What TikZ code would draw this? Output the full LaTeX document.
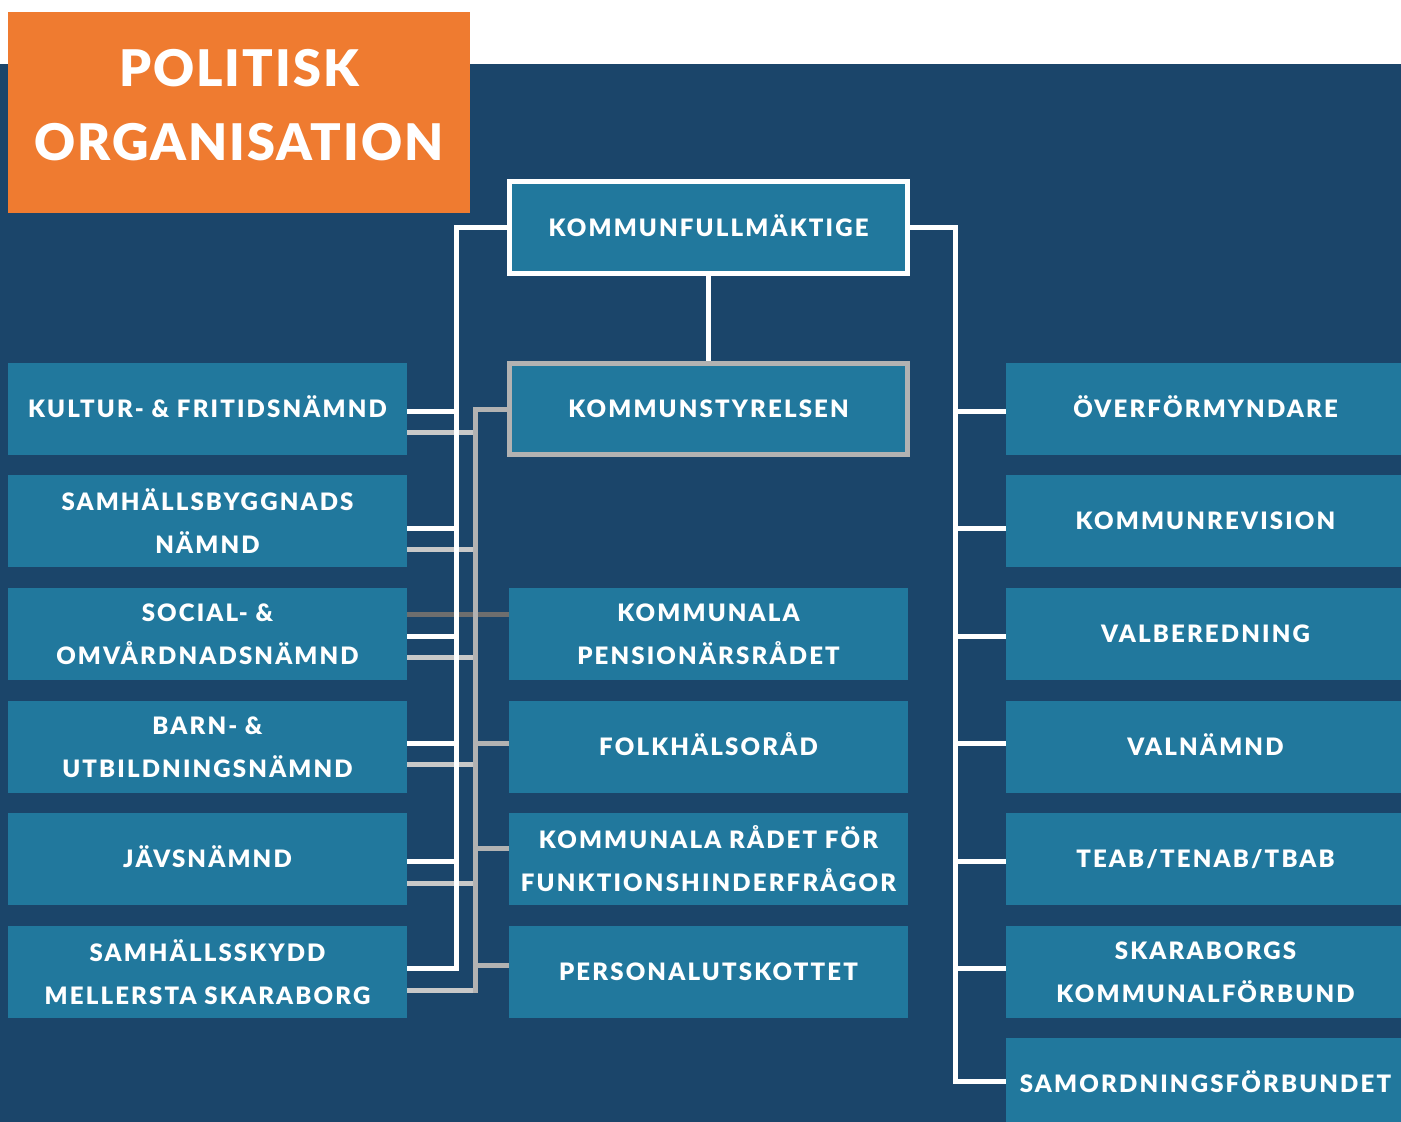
\documentclass[tikz,border=0pt]{standalone}
\usepackage{fontspec}
\newfontfamily\boxfont{Lato}[BoldFont={Lato Black},LetterSpace=9]
\newfontfamily\ttlfont{Lato}[BoldFont={Lato Black},LetterSpace=4]
\definecolor{navy}{RGB}{27,69,106}
\definecolor{boxblue}{RGB}{33,120,157}
\definecolor{orangeT}{RGB}{239,123,48}
\definecolor{grayB}{RGB}{178,178,178}
\definecolor{grayH}{RGB}{200,200,200}
\definecolor{grayD}{RGB}{110,110,110}
\pgfdeclarelayer{background}
\pgfsetlayers{background,main}
\begin{document}
\begin{tikzpicture}[x=1pt,y=-1pt,
  unit/.style={fill=boxblue, minimum width=399pt, minimum height=92pt, inner sep=0pt,
    text=white, align=center, font=\boxfont\bfseries\fontsize{24}{43}\selectfont},
  one/.style={unit, text height=17.4pt, text depth=0pt},
  topunit/.style={one, draw=white, line width=5pt, minimum width=398pt},
  ksunit/.style={one, draw=grayB, line width=5pt, minimum width=398pt, minimum height=91pt},
  titlebox/.style={fill=orangeT, minimum width=462pt, minimum height=201pt, inner sep=0pt},
  titletext/.style={text=white, align=center, inner sep=0pt, font=\ttlfont\bfseries\fontsize{50.5}{74}\selectfont},
  wline/.style={draw=white, line width=5pt},
  gline/.style={draw=grayB, line width=5pt},
  hline/.style={draw=grayH, line width=5pt},
  dline/.style={draw=grayD, line width=5pt}]
\useasboundingbox (0,0) rectangle (1401,1122);
\begin{pgfonlayer}{background}
\fill[white] (0,0) rectangle (1401,1122);
\fill[navy] (0,64) rectangle (1401,1122);
\end{pgfonlayer}
% title
\node[titlebox] (title) at (239,112.5) {};
\node[titletext] (titletxt) at (239,105) {POLITISK\\ORGANISATION};
% centre column
\node[topunit] (kf) at (708.5,227.5) {KOMMUNFULLMÄKTIGE};
\node[ksunit] (ks) at (708.5,409) {KOMMUNSTYRELSEN};
\node[unit] (m1) at (708.5,634) {KOMMUNALA\\PENSIONÄRSRÅDET};
\node[one] (m2) at (708.5,747) {FOLKHÄLSORÅD};
\node[unit] (m3) at (708.5,859) {KOMMUNALA RÅDET FÖR\\FUNKTIONSHINDERFRÅGOR};
\node[one] (m4) at (708.5,972) {PERSONALUTSKOTTET};
% left column
\node[one] (l1) at (207.5,409) {KULTUR- \& FRITIDSNÄMND};
\node[unit] (l2) at (207.5,521) {SAMHÄLLSBYGGNADS\\NÄMND};
\node[unit] (l3) at (207.5,634) {SOCIAL- \&\\OMVÅRDNADSNÄMND};
\node[unit] (l4) at (207.5,747) {BARN- \&\\UTBILDNINGSNÄMND};
\node[one] (l5) at (207.5,859) {JÄVSNÄMND};
\node[unit] (l6) at (207.5,972) {SAMHÄLLSSKYDD\\MELLERSTA SKARABORG};
% right column
\node[one] (r1) at (1205.5,409) {ÖVERFÖRMYNDARE};
\node[one] (r2) at (1205.5,521) {KOMMUNREVISION};
\node[one] (r3) at (1205.5,634) {VALBEREDNING};
\node[one] (r4) at (1205.5,747) {VALNÄMND};
\node[one] (r5) at (1205.5,859) {TEAB/TENAB/TBAB};
\node[unit] (r6) at (1205.5,972) {SKARABORGS\\KOMMUNALFÖRBUND};
\node[one] (r7) at (1205.5,1084) {SAMORDNINGSFÖRBUNDET};
% connectors
\coordinate (wl) at (456,227);
\coordinate (gl) at (475,409);
\coordinate (wr) at (955,227);
\begin{pgfonlayer}{background}
\draw[dline] (l3.east |- 0,614) -- (m1.west |- 0,614);
\foreach \n/\y in {l1/432,l2/549,l3/657,l4/764,l5/883}
  \draw[hline] (\n.east |- 0,\y) -- (gl |- 0,\y);
\draw[hline] (l6.east |- 0,990) -- (gl |- 0,990);
\draw[gline] (ks.west) -- (gl) -- (gl |- 0,992.5);
\foreach \n/\y in {m2/743,m3/848,m4/965}
  \draw[gline] (gl |- 0,\y) -- (\n.west |- 0,\y);
\draw[wline] (kf.west |- wl) -- (wl) -- (wl |- 0,968) -- (l6.east |- 0,968);
\foreach \n/\y in {l1/411,l2/528,l3/636,l4/743,l5/861}
  \draw[wline] (\n.east |- 0,\y) -- (wl |- 0,\y);
\draw[wline] (kf.south) -- (ks.north);
\draw[wline] (kf.east |- wr) -- (wr) -- (wr |- 0,1081) -- (r7.west |- 0,1081);
\foreach \n/\y in {r1/411,r2/528,r3/636,r4/743,r5/861,r6/968}
  \draw[wline] (wr |- 0,\y) -- (\n.west |- 0,\y);
\end{pgfonlayer}
\end{tikzpicture}
\end{document}
